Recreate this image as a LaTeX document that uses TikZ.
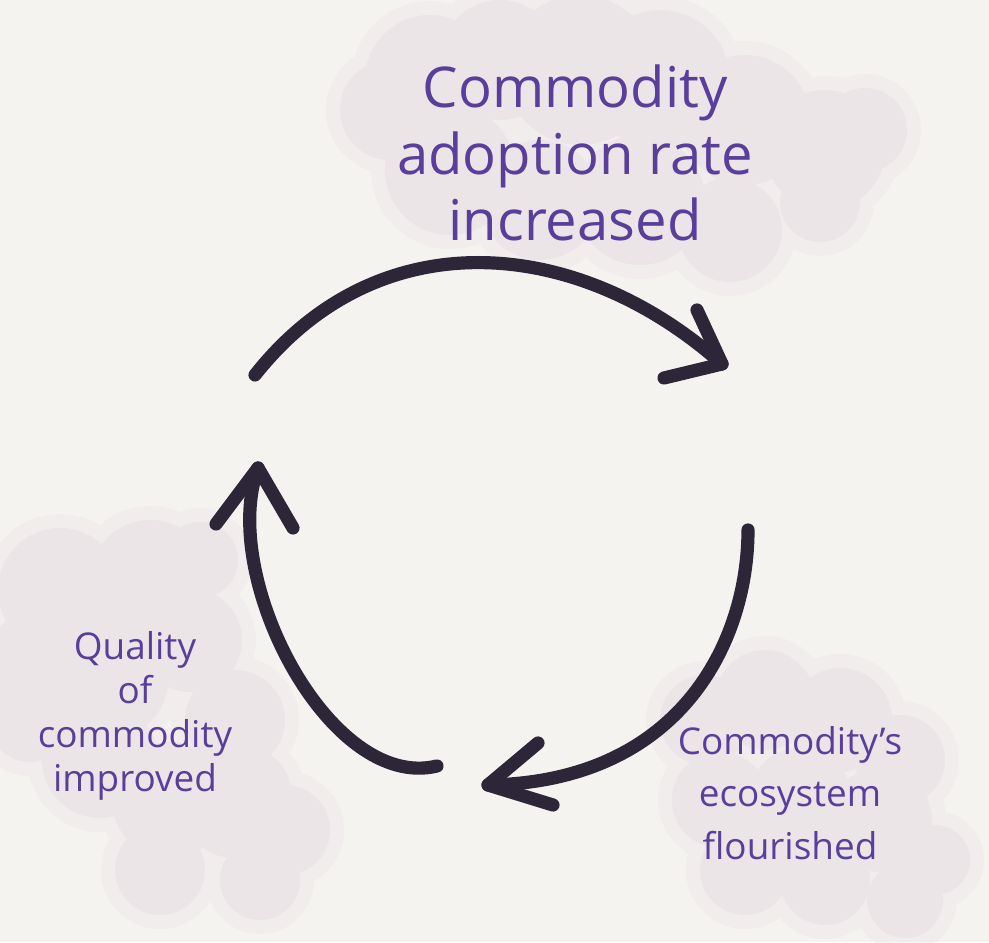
\documentclass[tikz,border=0pt]{standalone}
\usepackage{fontspec}
\setmainfont{Open Sans}
\definecolor{paper}{RGB}{244,243,240}
\definecolor{ink}{RGB}{45,38,57}
\definecolor{pen}{RGB}{90,62,155}
\definecolor{haze}{RGB}{222,208,220}
\tikzset{
  stroke/.style={ink, line width=7.5pt, line cap=round, line join=round},
  label/.style={pen, align=center, inner sep=0pt},
  cloud/.style={fill=haze, fill opacity=#1},
}

\begin{document}
\begin{tikzpicture}[x=0.02cm, y=0.02cm]
  \fill[paper] (0,0) rectangle (989,942);
  \useasboundingbox (0,0) rectangle (989,942);

  % clouds behind the texts, soft edges from two passes
  \foreach \grow/\op in {14/0.16, 0/0.26}{
    \fill[cloud=\op] \foreach \x/\y/\r in {390/832/50, 430/862/65, 500/882/60, 580/872/75,
        660/862/70, 745/822/65, 825/792/60, 865/812/42, 450/772/65, 540/742/60,
        640/742/65, 730/712/52, 820/740/40}
      {(\x,\y) circle (\r+\grow)};
    \fill[cloud=\op] \foreach \x/\y/\r in {60/352/62, 150/362/60, 200/382/38, 40/282/52,
        110/262/58, 190/302/52, 235/222/50, 100/182/58, 170/142/58, 235/142/58,
        285/112/45, 160/72/45, 260/62/40, 30/222/42}
      {(\x,\y) circle (\r+\grow)};
    \fill[cloud=\op] \foreach \x/\y/\r in {705/222/45, 765/242/50, 840/222/52, 900/182/45,
        720/142/48, 800/142/52, 880/122/52, 935/82/35, 745/72/45, 825/62/45, 905/42/38}
      {(\x,\y) circle (\r+\grow)};
  }

  % texts
  \node[label, font=\fontsize{32}{38}\selectfont] (adoption) at (575,789)
    {Commodity\\adoption rate\\increased};
  \node[label, font=\fontsize{21}{25}\selectfont] (quality) at (135,226)
    {Quality\\of\\commodity\\improved};
  \node[label, font=\fontsize{21}{30}\selectfont] (ecosystem) at (790,149)
    {Commodity's\\ecosystem\\flourished};

  % ends of the three strokes
  \coordinate (topS) at (255,567);
  \coordinate (topE) at (722,578);
  \coordinate (topW1) at (697,632);
  \coordinate (topW2) at (664,564);
  \coordinate (rightS) at (748,412);
  \coordinate (rightE) at (488,157);
  \coordinate (rightW1) at (538,199);
  \coordinate (rightW2) at (553,137);
  \coordinate (leftS) at (437,176);
  \coordinate (leftE) at (258,474);
  \coordinate (leftW1) at (216,418);
  \coordinate (leftW2) at (293,414);

  \draw[stroke] (topS) .. controls (380,725) and (580,705) .. (topE);
  \draw[stroke] (topW1) -- (topE) -- (topW2);
  \draw[stroke] (rightS) .. controls (748,300) and (680,160) .. (rightE);
  \draw[stroke] (rightW1) -- (rightE) -- (rightW2);
  \draw[stroke] (leftS) .. controls (330,150) and (218,365) .. (leftE);
  \draw[stroke] (leftW1) -- (leftE) -- (leftW2);
\end{tikzpicture}
\end{document}
